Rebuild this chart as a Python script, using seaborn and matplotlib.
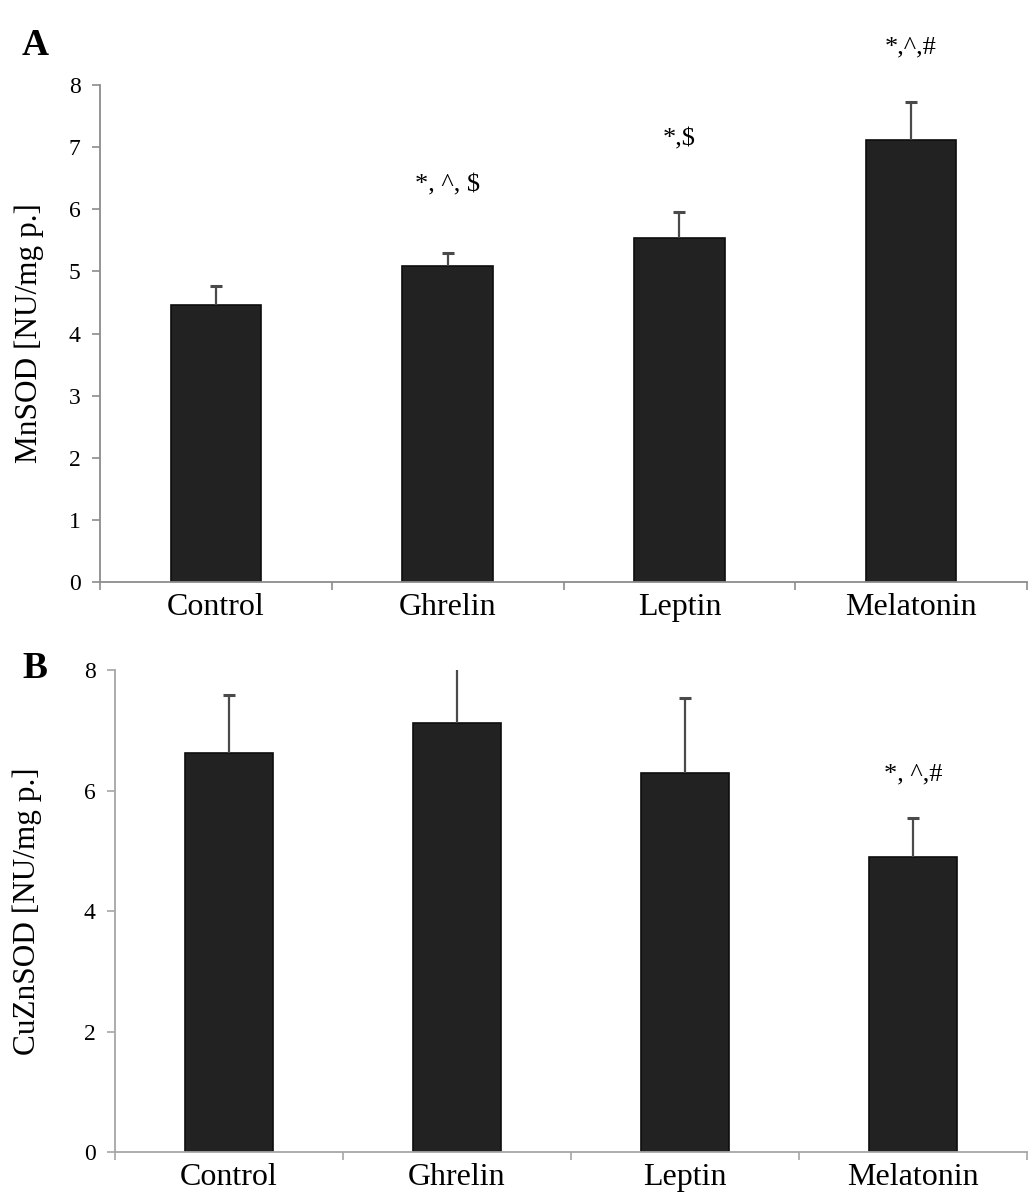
import numpy as np
import pandas as pd
import matplotlib
matplotlib.use("Agg")
import matplotlib.pyplot as plt
import seaborn as sns
from matplotlib.ticker import FixedLocator

# data
groups = ["Control", "Ghrelin", "Leptin", "Melatonin"]
mnsod_mean = [4.46, 5.08, 5.53, 7.11]
mnsod_sd = [0.30, 0.21, 0.42, 0.62]
cuznsod_mean = [6.63, 7.12, 6.29, 4.90]
cuznsod_sd = [0.96, 1.20, 1.25, 0.64]
mnsod_marks = ["", "*, ^, $", "*,$", "*,^,#"]
cuznsod_marks = ["", "", "", "*, ^,#"]

sns.set_theme(style="white")
plt.rcParams["font.family"] = ["Liberation Serif", "DejaVu Serif"]
plt.rcParams["text.color"] = "black"
plt.rcParams["axes.labelcolor"] = "black"
plt.rcParams["xtick.labelcolor"] = "black"
plt.rcParams["ytick.labelcolor"] = "black"

fig = plt.figure(figsize=(10.33, 12.04), dpi=100)
ax_a = fig.add_axes([0.0968, 0.5166, 0.8974, 0.4128])
ax_b = fig.add_axes([0.1113, 0.0430, 0.8829, 0.4005])

# gap between error top and the significance marks (layout only)
mark_gap_a = [0, 1.10, 1.17, 0.87]
mark_gap_b = [0, 0, 0, 0.73]


def draw_panel(ax, mean, sd, marks, gaps, ylabel, yticks, spine_col, label_x):
    df = pd.DataFrame({"group": groups, "value": mean})
    sns.barplot(data=df, x="group", y="value", ax=ax, color="#222222",
                saturation=1, width=0.39, edgecolor="#0d0d0d", linewidth=1.2,
                errorbar=None)
    x = np.arange(len(groups))
    top = np.array(mean) + np.array(sd)
    # upper error only: stem plus a cap at the top
    ax.errorbar(x, mean, yerr=[np.zeros(len(sd)), sd], fmt="none",
                ecolor="#4a4a4a", elinewidth=1.6, capsize=0, zorder=3)
    ax.plot(x, top, ls="none", marker="_", ms=9, mew=2.2,
            color="#4a4a4a", zorder=3)
    for xi, t, lab, g in zip(x, top, marks, gaps):
        if lab:
            ax.text(xi, t + g, lab, ha="center", va="center",
                    fontsize=19, color="black", clip_on=False)

    ax.set_xlim(-0.5, 3.5)
    ax.set_ylim(0, 8)
    ax.set_yticks(yticks)
    ax.set_xlabel("")
    ax.set_ylabel(ylabel, fontsize=22.5)
    ax.yaxis.set_label_coords(label_x, 0.5)
    sns.despine(ax=ax)
    for side in ["left", "bottom"]:
        ax.spines[side].set_color(spine_col)
        ax.spines[side].set_linewidth(1.3)
    ax.tick_params(axis="y", direction="out", length=6, width=1.2,
                   color=spine_col, labelsize=17, pad=8, left=True)
    ax.tick_params(axis="x", which="major", length=0, labelsize=23, pad=8)
    ax.xaxis.set_minor_locator(FixedLocator([-0.5, 0.5, 1.5, 2.5, 3.5]))
    ax.tick_params(axis="x", which="minor", direction="out", length=6,
                   width=1.2, color=spine_col, bottom=True)


draw_panel(ax_a, mnsod_mean, mnsod_sd, mnsod_marks, mark_gap_a,
           "MnSOD [NU/mg p.]", range(0, 9), "#8c8c8c", -0.060)
draw_panel(ax_b, cuznsod_mean, cuznsod_sd, cuznsod_marks, mark_gap_b,
           "CuZnSOD [NU/mg p.]", range(0, 9, 2), "#a6a6a6", -0.080)

fig.text(0.0213, 0.962, "A", fontsize=27, fontweight="bold", va="center",
         ha="left")
fig.text(0.0213, 0.4444, "B", fontsize=27, fontweight="bold", va="center",
         ha="left")

fig.savefig("out.png", dpi=100)
plt.close(fig)
